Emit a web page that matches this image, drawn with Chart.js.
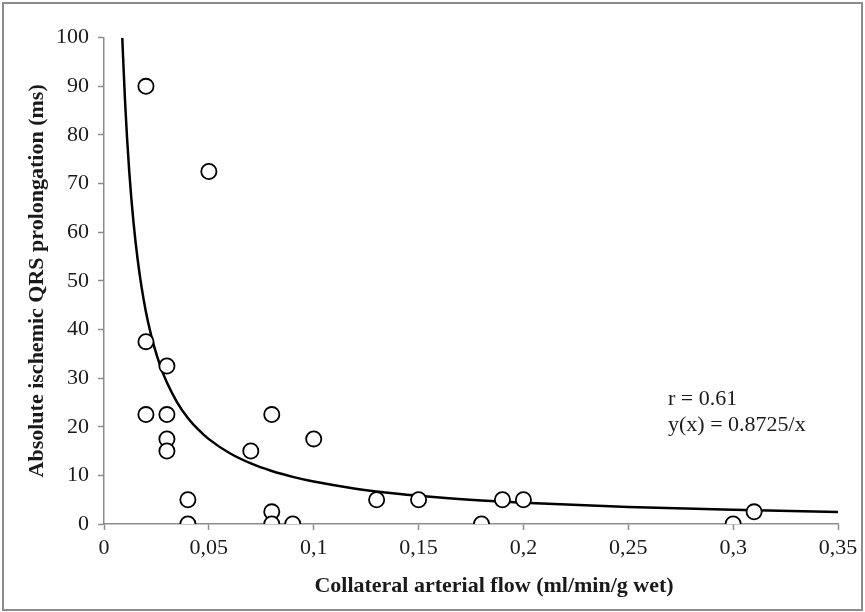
<!DOCTYPE html>
<html>
<head>
<meta charset="utf-8">
<script src="https://cdn.jsdelivr.net/npm/chart.js@4"></script>
<style>
    html, body { margin: 0; padding: 0; background: #fff; }
    #wrap { width: 865px; height: 612px; position: relative; }
</style>
</head>
<body>
<div id="wrap"><canvas id="qrsChart" width="865" height="612"></canvas></div>
<script>
// Measured points (collateral flow, QRS prolongation)
const flowValues = [0.02, 0.05, 0.02, 0.03, 0.02, 0.03, 0.03, 0.03, 0.04, 0.04, 0.07, 0.08,
                    0.08, 0.08, 0.09, 0.10, 0.13, 0.15, 0.18, 0.19, 0.20, 0.30, 0.31];
const qrsValues = [90, 72.5, 37.5, 32.5, 22.5, 22.5, 17.5, 15, 5, 0, 15, 22.5,
                   2.5, 0, 0, 17.5, 5, 5, 0, 5, 5, 0, 2.5];

// Fitted curve y(x) = a / x, as printed on the chart
const fitCoef = 0.8725;
const fitX = [0.008725, 0.009, 0.01, 0.011, 0.012, 0.013, 0.014, 0.015, 0.017, 0.019, 0.021,
              0.024, 0.027, 0.03, 0.035, 0.04, 0.045, 0.05, 0.06, 0.07, 0.08, 0.09, 0.1,
              0.12, 0.14, 0.16, 0.18, 0.2, 0.25, 0.3, 0.35];

const xTitle = 'Collateral arterial flow (ml/min/g wet)';
const yTitle = 'Absolute ischemic QRS prolongation (ms)';
const noteLines = ['r = 0.61', 'y(x) = 0.8725/x'];

const FONT = '"Liberation Serif", "Times New Roman", serif';
const AXIS_GRAY = '#8c8c8c';
const TEXT = '#1a1a1a';

const points = flowValues.map((x, i) => ({ x: x, y: qrsValues[i] }));
const fitPoints = fitX.map(x => ({ x: x, y: fitCoef / x }));

// frame, x title and the r / equation note
const extrasPlugin = {
    id: 'extras',
    afterDraw(chart) {
        const ctx = chart.ctx;
        ctx.save();
        ctx.strokeStyle = AXIS_GRAY;
        ctx.lineWidth = 2;
        ctx.strokeRect(3, 3, 859, 607);

        ctx.fillStyle = TEXT;
        ctx.font = 'bold 22px ' + FONT;
        ctx.textAlign = 'center';
        ctx.textBaseline = 'middle';
        ctx.fillText(xTitle, 494, 586);

        ctx.font = '22px ' + FONT;
        ctx.textAlign = 'left';
        noteLines.forEach((line, i) => ctx.fillText(line, 668, 399 + i * 26));
        ctx.restore();
    }
};

function commaTick(v) {
    return String(parseFloat(Number(v).toFixed(2))).replace('.', ',');
}

new Chart(document.getElementById('qrsChart'), {
    type: 'scatter',
    data: {
        datasets: [{
            label: 'Data',
            data: points,
            backgroundColor: '#fff',
            borderColor: '#000',
            borderWidth: 1.8,
            pointRadius: 7.6
        }, {
            label: 'Fit',
            type: 'line',
            data: fitPoints,
            borderColor: '#000',
            borderWidth: 2.5,
            pointRadius: 0,
            fill: false,
            cubicInterpolationMode: 'monotone'
        }]
    },
    options: {
        responsive: false,
        animation: false,
        layout: { padding: { left: 20, top: 37.7, right: 27, bottom: 14 } },
        plugins: {
            legend: { display: false },
            tooltip: { enabled: false }
        },
        scales: {
            x: {
                type: 'linear',
                min: 0,
                max: 0.35,
                ticks: {
                    stepSize: 0.05,
                    color: TEXT,
                    font: { family: FONT, size: 22 },
                    padding: 5,
                    maxRotation: 0,
                    callback: commaTick
                },
                grid: { drawOnChartArea: false, tickLength: 6, tickColor: AXIS_GRAY, tickWidth: 1.5 },
                border: { color: AXIS_GRAY, width: 1.5 },
                afterFit(scale) { scale.height = 74; }
            },
            y: {
                min: 0,
                max: 100,
                ticks: {
                    stepSize: 10,
                    color: TEXT,
                    font: { family: FONT, size: 22 },
                    padding: 9
                },
                grid: { drawOnChartArea: false, tickLength: 6, tickColor: AXIS_GRAY, tickWidth: 1.5 },
                border: { color: AXIS_GRAY, width: 1.5 },
                title: {
                    display: true,
                    text: yTitle,
                    color: TEXT,
                    font: { family: FONT, size: 22, weight: 'bold' },
                    padding: { top: 4, bottom: 0 }
                },
                afterFit(scale) { scale.width = 84; }
            }
        }
    },
    plugins: [extrasPlugin]
});
</script>
</body>
</html>
